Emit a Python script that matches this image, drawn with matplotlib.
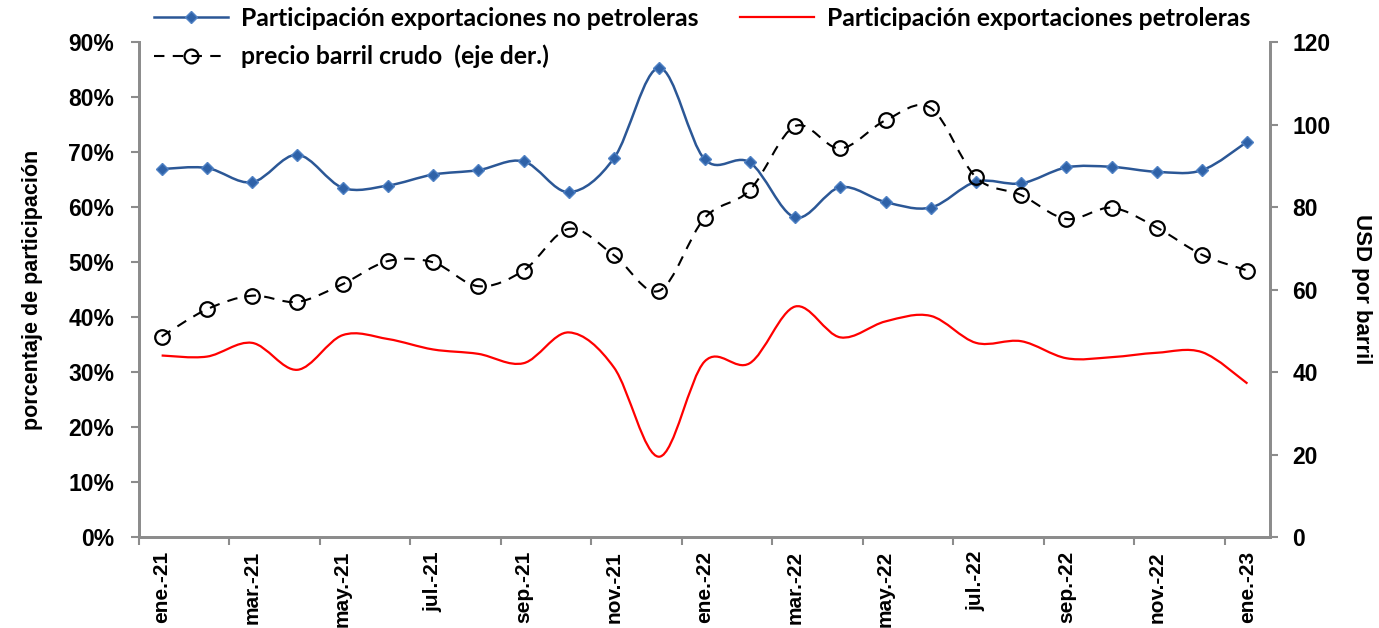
import matplotlib
matplotlib.use("Agg")
import matplotlib.pyplot as plt
from matplotlib.path import Path
from matplotlib.patches import PathPatch
from matplotlib.lines import Line2D
from matplotlib.ticker import PercentFormatter, FixedLocator

# Datos mensuales ene-21 .. ene-23
meses = ["ene.-21", "feb.-21", "mar.-21", "abr.-21", "may.-21", "jun.-21", "jul.-21",
         "ago.-21", "sep.-21", "oct.-21", "nov.-21", "dic.-21", "ene.-22", "feb.-22",
         "mar.-22", "abr.-22", "may.-22", "jun.-22", "jul.-22", "ago.-22", "sep.-22",
         "oct.-22", "nov.-22", "dic.-22", "ene.-23"]

no_petroleras = [66.9, 67.1, 64.5, 69.5, 63.5, 63.9, 65.9, 66.7, 68.3, 62.7, 68.9, 85.3, 68.7,
                 68.1, 58.1, 63.6, 60.9, 59.9, 64.6, 64.3, 67.2, 67.3, 66.4, 66.7, 71.9]
petroleras = [33.0, 32.8, 35.3, 30.4, 36.7, 36.0, 34.1, 33.3, 31.6, 37.2, 30.8, 14.6, 31.9,
              31.6, 41.9, 36.3, 39.2, 40.2, 35.3, 35.6, 32.5, 32.7, 33.5, 33.6, 27.9]
precio_barril = [48.6, 55.2, 58.5, 57.0, 61.3, 66.9, 66.6, 60.8, 64.6, 74.7, 68.3, 59.7, 77.3,
                 84.1, 99.6, 94.2, 101.0, 104.0, 87.2, 82.9, 77.1, 79.8, 75.0, 68.4, 64.6]

etiquetas_legend = ["Participación exportaciones no petroleras",
                    "Participación exportaciones petroleras",
                    "precio barril crudo  (eje der.)"]

AZUL = "#2B5796"
ROJO = "#FF0000"
GRIS = "#8C8C8C"


def curva_suave(xs, ys):
    # curva tipo Excel (bezier con puntos de control a 1/6)
    verts = [(xs[0], ys[0])]
    codes = [Path.MOVETO]
    n = len(xs)
    for i in range(n - 1):
        x0, y0 = (xs[i - 1], ys[i - 1]) if i > 0 else (xs[i], ys[i])
        x1, y1 = xs[i], ys[i]
        x2, y2 = xs[i + 1], ys[i + 1]
        x3, y3 = (xs[i + 2], ys[i + 2]) if i + 2 < n else (x2, y2)
        verts += [(x1 + (x2 - x0) / 6, y1 + (y2 - y0) / 6),
                  (x2 - (x3 - x1) / 6, y2 - (y3 - y1) / 6),
                  (x2, y2)]
        codes += [Path.CURVE4] * 3
    return Path(verts, codes)


x = list(range(len(meses)))

fig = plt.figure(figsize=(13.79, 6.28), dpi=100)
ax = fig.add_axes([0.1008, 0.1449, 0.8202, 0.7882])
ax2 = ax.twinx()

ax.add_patch(PathPatch(curva_suave(x, [v / 100 for v in no_petroleras]), fill=False,
                       edgecolor=AZUL, lw=1.8, zorder=3))
ax.plot(x, [v / 100 for v in no_petroleras], ls="none", marker="D", ms=6.5,
        mfc="#2F62A8", mec="#4F81C4", mew=1.0, zorder=4)
ax.add_patch(PathPatch(curva_suave(x, [v / 100 for v in petroleras]), fill=False,
                       edgecolor=ROJO, lw=1.6, zorder=3))

ax2.add_patch(PathPatch(curva_suave(x, precio_barril), fill=False, edgecolor="black",
                        lw=1.5, linestyle=(0, (5, 4)), zorder=3))
ax2.plot(x, precio_barril, ls="none", marker="o", ms=10.5, mfc="none", mec="black",
         mew=1.6, zorder=4)

ax.set_xlim(-0.5, len(meses) - 0.5)
ax.set_ylim(0, 0.9)
ax2.set_ylim(0, 120)

ax.set_yticks([i / 10 for i in range(10)])
ax.yaxis.set_major_formatter(PercentFormatter(1.0, decimals=0))
ax2.set_yticks(range(0, 121, 20))

ax.set_xticks(x[::2])
ax.set_xticklabels(meses[::2], rotation=90, fontsize=15, fontweight="bold",
                   family="Liberation Sans")
ax.xaxis.set_minor_locator(FixedLocator([i - 0.5 for i in range(0, len(meses) + 1, 2)]))
ax.tick_params(axis="x", which="major", length=0, pad=10)
ax.tick_params(axis="x", which="minor", length=6, color=GRIS, width=1.5)
ax.tick_params(axis="y", length=6, color=GRIS, width=1.5, pad=12)
ax2.tick_params(axis="y", length=6, color=GRIS, width=1.5, pad=10)
for lab in ax.get_yticklabels() + ax2.get_yticklabels():
    lab.set_fontsize(16.5)
    lab.set_fontweight("bold")
    lab.set_family("Liberation Sans")

for a in (ax, ax2):
    a.spines["top"].set_visible(False)
    for s in ("left", "right", "bottom"):
        a.spines[s].set_color(GRIS)
        a.spines[s].set_linewidth(2)

ax.set_ylabel("porcentaje de participación", fontsize=15.5, fontweight="bold",
              family="Liberation Sans", labelpad=18)
ax2.set_ylabel("USD por barril", fontsize=16, fontweight="bold", family="Liberation Sans",
               rotation=-90, labelpad=30)

handles = [
    Line2D([], [], color=AZUL, lw=1.8, marker="D", ms=6.5, mfc="#2F62A8", mec="#4F81C4"),
    Line2D([], [], color="black", lw=1.5, ls=(0, (5, 4)), marker="o", ms=10, mfc="none",
           mec="black", mew=1.6),
    Line2D([], [], color=ROJO, lw=1.6),
]
fig.legend(handles, [etiquetas_legend[0], etiquetas_legend[2], etiquetas_legend[1]],
           loc="upper left", bbox_to_anchor=(0.110, 0.993), ncol=2, frameon=False,
           borderaxespad=0.0, borderpad=0.1, handlelength=3.0, handletextpad=0.5,
           columnspacing=1.7, labelspacing=0.6,
           prop={"family": "Lato", "weight": "bold", "size": 17.8})

fig.savefig("out.png", dpi=100)
